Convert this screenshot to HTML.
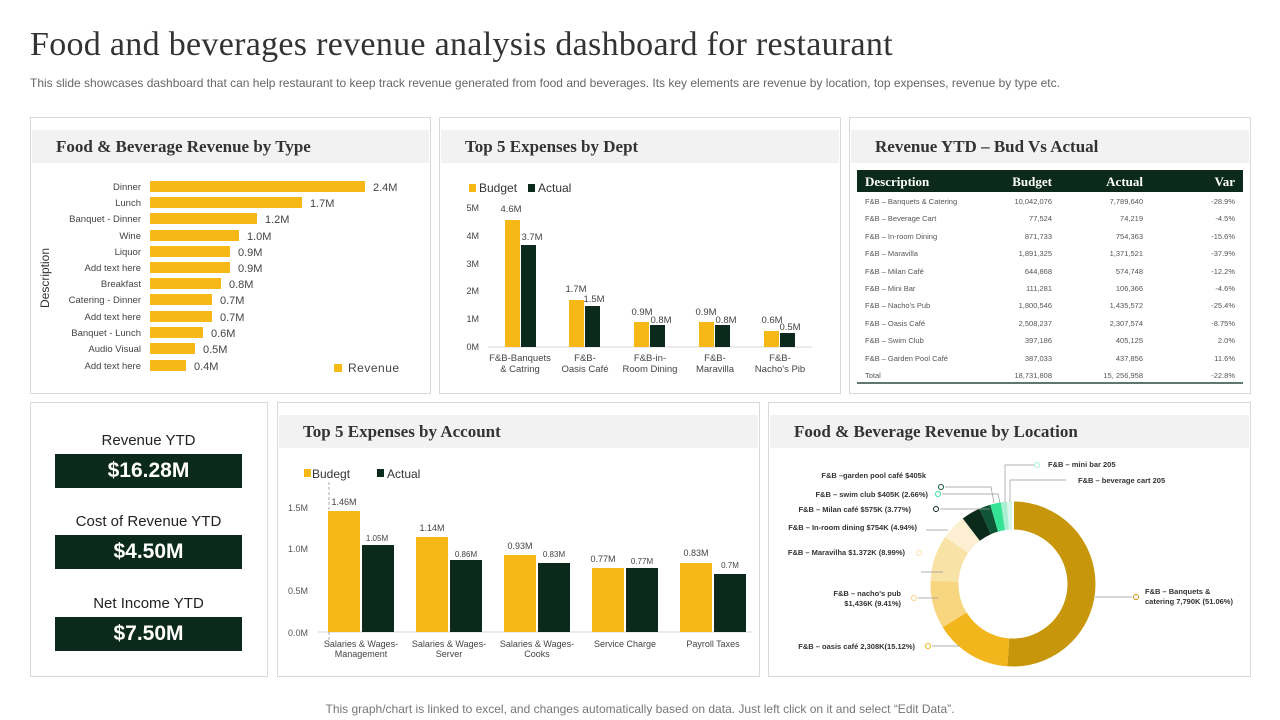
<!DOCTYPE html><html><head><meta charset="utf-8"><style>
body{margin:0;width:1280px;height:720px;background:#fff;position:relative;overflow:hidden;font-family:"Liberation Sans",sans-serif;color:#222}
.a{position:absolute}
.p{position:absolute;border:1px solid #d9d9d9;background:#fff;box-sizing:border-box}
.h{position:absolute;left:1px;right:1px;height:33px;background:#f2f2f2;font:bold 17px "Liberation Serif",serif;color:#333;line-height:33px;padding-left:24px}
.kl{position:absolute;left:55px;width:187px;text-align:center;font-size:15px;color:#222}
.kb{position:absolute;left:55px;width:187px;height:34px;background:#0b2a1b;color:#fff;font-weight:bold;font-size:21px;text-align:center;line-height:34px}
svg{font-family:"Liberation Sans",sans-serif}
.sf text{font-family:"Liberation Serif",serif}
</style></head><body>
<div class="a" style="left:30px;top:26px;font:34px 'Liberation Serif',serif;color:#333;letter-spacing:0.3px">Food and beverages revenue analysis dashboard for restaurant</div>
<div class="a" style="left:30px;top:76px;font-size:12px;color:#666">This slide showcases dashboard that can help restaurant to keep track revenue generated from food and beverages. Its key elements are revenue by location, top expenses, revenue by type etc.</div>
<div class="a" style="left:0;width:1280px;top:702px;text-align:center;font-size:12px;color:#777">This graph/chart is linked to excel, and changes automatically based on data. Just left click on it and select “Edit Data”.</div>

<div class="p" style="left:30px;top:117px;width:401px;height:277px"><div class="h" style="top:12px">Food &amp; Beverage Revenue by Type</div></div>
<div class="p" style="left:439px;top:117px;width:402px;height:277px"><div class="h" style="top:12px">Top 5 Expenses by Dept</div></div>
<div class="p" style="left:849px;top:117px;width:402px;height:277px"><div class="h" style="top:12px">Revenue YTD – Bud Vs Actual</div></div>
<div class="p" style="left:30px;top:402px;width:238px;height:275px"></div>
<div class="p" style="left:277px;top:402px;width:483px;height:275px"><div class="h" style="top:12px">Top 5 Expenses by Account</div></div>
<div class="p" style="left:768px;top:402px;width:483px;height:275px"><div class="h" style="top:12px">Food &amp; Beverage Revenue by Location</div></div>

<div class="kl" style="top:432px">Revenue YTD</div><div class="kb" style="top:454px">$16.28M</div>
<div class="kl" style="top:513px">Cost of Revenue YTD</div><div class="kb" style="top:535px">$4.50M</div>
<div class="kl" style="top:595px">Net Income YTD</div><div class="kb" style="top:617px">$7.50M</div>

<svg class="a" style="left:0;top:0" width="1280" height="720">
<g font-size="9.5" fill="#444" text-anchor="end">
<text x="141" y="190">Dinner</text><text x="141" y="206">Lunch</text><text x="141" y="222">Banquet - Dinner</text><text x="141" y="239">Wine</text><text x="141" y="255">Liquor</text><text x="141" y="271">Add text here</text><text x="141" y="287">Breakfast</text><text x="141" y="303">Catering - Dinner</text><text x="141" y="320">Add text here</text><text x="141" y="336">Banquet - Lunch</text><text x="141" y="352">Audio Visual</text><text x="141" y="369">Add text here</text>
</g>
<g fill="#f6b817">
<rect x="150" y="181" width="215" height="11"/><rect x="150" y="197" width="152" height="11"/><rect x="150" y="213" width="107" height="11"/><rect x="150" y="230" width="89" height="11"/><rect x="150" y="246" width="80" height="11"/><rect x="150" y="262" width="80" height="11"/><rect x="150" y="278" width="71" height="11"/><rect x="150" y="294" width="62" height="11"/><rect x="150" y="311" width="62" height="11"/><rect x="150" y="327" width="53" height="11"/><rect x="150" y="343" width="45" height="11"/><rect x="150" y="360" width="36" height="11"/>
</g>
<g font-size="11" fill="#444">
<text x="373" y="191">2.4M</text><text x="310" y="207">1.7M</text><text x="265" y="223">1.2M</text><text x="247" y="240">1.0M</text><text x="238" y="256">0.9M</text><text x="238" y="272">0.9M</text><text x="229" y="288">0.8M</text><text x="220" y="304">0.7M</text><text x="220" y="321">0.7M</text><text x="211" y="337">0.6M</text><text x="203" y="353">0.5M</text><text x="194" y="370">0.4M</text>
</g>
<text transform="translate(49,278) rotate(-90)" text-anchor="middle" font-size="12" fill="#333">Description</text>
<rect x="334" y="364" width="8" height="8" fill="#f6b817"/><text x="348" y="372" font-size="12" fill="#444" letter-spacing="0.5">Revenue</text>

<rect x="469" y="184" width="7" height="8" fill="#f6b817"/><text x="479" y="192" font-size="12" fill="#333">Budget</text>
<rect x="528" y="184" width="7" height="8" fill="#0b2a1b"/><text x="538" y="192" font-size="12" fill="#333">Actual</text>
<g font-size="9" fill="#444" text-anchor="end"><text x="479" y="211">5M</text><text x="479" y="239">4M</text><text x="479" y="267">3M</text><text x="479" y="294">2M</text><text x="479" y="322">1M</text><text x="479" y="350">0M</text></g>
<line x1="488" y1="347" x2="812" y2="347" stroke="#d9d9d9"/>
<g fill="#f6b817"><rect x="505" y="220" width="15" height="127"/><rect x="569" y="300" width="15" height="47"/><rect x="634" y="322" width="15" height="25"/><rect x="699" y="322" width="15" height="25"/><rect x="764" y="331" width="15" height="16"/></g>
<g fill="#0b2a1b"><rect x="521" y="245" width="15" height="102"/><rect x="585" y="306" width="15" height="41"/><rect x="650" y="325" width="15" height="22"/><rect x="715" y="325" width="15" height="22"/><rect x="780" y="333" width="15" height="14"/></g>
<g font-size="9.5" fill="#444" text-anchor="middle">
<text x="511" y="212">4.6M</text><text x="532" y="240">3.7M</text><text x="576" y="292">1.7M</text><text x="594" y="302">1.5M</text><text x="642" y="315">0.9M</text><text x="661" y="323">0.8M</text><text x="706" y="315">0.9M</text><text x="726" y="323">0.8M</text><text x="772" y="323">0.6M</text><text x="790" y="330">0.5M</text>
<text x="520" y="361">F&amp;B-Banquets</text><text x="520" y="372">&amp; Catring</text>
<text x="585" y="361">F&amp;B-</text><text x="585" y="372">Oasis Café</text>
<text x="650" y="361">F&amp;B-in-</text><text x="650" y="372">Room Dining</text>
<text x="715" y="361">F&amp;B-</text><text x="715" y="372">Maravilla</text>
<text x="780" y="361">F&amp;B-</text><text x="780" y="372">Nacho's Pib</text>
</g>

<rect x="857" y="170" width="386" height="22" fill="#0b2a1b"/>
<g class="sf" font-weight="bold" font-size="13" fill="#fff">
<text x="865" y="186">Description</text><text x="1052" y="186" text-anchor="end">Budget</text><text x="1143" y="186" text-anchor="end">Actual</text><text x="1235" y="186" text-anchor="end">Var</text></g>
<g font-size="7.5" fill="#555">
<g><text x="865" y="204">F&amp;B – Banquets &amp; Catering</text><text x="865" y="221">F&amp;B – Beverage Cart</text><text x="865" y="239">F&amp;B – In-room Dining</text><text x="865" y="256">F&amp;B – Maravilla</text><text x="865" y="274">F&amp;B – Milan Café</text><text x="865" y="291">F&amp;B – Mini Bar</text><text x="865" y="308">F&amp;B – Nacho's Pub</text><text x="865" y="326">F&amp;B – Oasis Café</text><text x="865" y="343">F&amp;B – Swim Club</text><text x="865" y="361">F&amp;B – Garden Pool Café</text><text x="865" y="378">Total</text></g>
<g text-anchor="end"><text x="1052" y="204">10,042,076</text><text x="1052" y="221">77,524</text><text x="1052" y="239">871,733</text><text x="1052" y="256">1,891,325</text><text x="1052" y="274">644,868</text><text x="1052" y="291">111,281</text><text x="1052" y="308">1,800,546</text><text x="1052" y="326">2,508,237</text><text x="1052" y="343">397,186</text><text x="1052" y="361">387,033</text><text x="1052" y="378">18,731,808</text></g>
<g text-anchor="end"><text x="1143" y="204">7,789,640</text><text x="1143" y="221">74,219</text><text x="1143" y="239">754,363</text><text x="1143" y="256">1,371,521</text><text x="1143" y="274">574,748</text><text x="1143" y="291">106,366</text><text x="1143" y="308">1,435,572</text><text x="1143" y="326">2,307,574</text><text x="1143" y="343">405,125</text><text x="1143" y="361">437,856</text><text x="1143" y="378">15, 256,958</text></g>
<g text-anchor="end"><text x="1235" y="204">-28.9%</text><text x="1235" y="221">-4.5%</text><text x="1235" y="239">-15.6%</text><text x="1235" y="256">-37.9%</text><text x="1235" y="274">-12.2%</text><text x="1235" y="291">-4.6%</text><text x="1235" y="308">-25.4%</text><text x="1235" y="326">-8.75%</text><text x="1235" y="343">2.0%</text><text x="1235" y="361">11.6%</text><text x="1235" y="378">-22.8%</text></g>
</g>
<line x1="857" y1="383" x2="1243" y2="383" stroke="#2f4a3c" stroke-width="1.5"/>

<rect x="304" y="469" width="7" height="8" fill="#f6b817"/><text x="312" y="478" font-size="12" fill="#333">Budegt</text>
<rect x="377" y="469" width="7" height="8" fill="#0b2a1b"/><text x="387" y="478" font-size="12" fill="#333">Actual</text>
<g font-size="9" fill="#555" text-anchor="end"><text x="308" y="511">1.5M</text><text x="308" y="552">1.0M</text><text x="308" y="594">0.5M</text><text x="308" y="636">0.0M</text></g>
<line x1="318" y1="632" x2="752" y2="632" stroke="#d9d9d9"/>
<line x1="329" y1="482" x2="329" y2="645" stroke="#888" stroke-dasharray="3,2" stroke-width="0.7"/>
<g fill="#f6b817"><rect x="328" y="511" width="32" height="121"/><rect x="416" y="537" width="32" height="95"/><rect x="504" y="555" width="32" height="77"/><rect x="592" y="568" width="32" height="64"/><rect x="680" y="563" width="32" height="69"/></g>
<g fill="#0b2a1b"><rect x="362" y="545" width="32" height="87"/><rect x="450" y="560" width="32" height="72"/><rect x="538" y="563" width="32" height="69"/><rect x="626" y="568" width="32" height="64"/><rect x="714" y="574" width="32" height="58"/></g>
<g font-size="9" fill="#444" text-anchor="middle">
<text x="344" y="505">1.46M</text><text x="377" y="541" font-size="8">1.05M</text><text x="432" y="531">1.14M</text><text x="466" y="557" font-size="8">0.86M</text><text x="520" y="549">0.93M</text><text x="554" y="557" font-size="8">0.83M</text><text x="603" y="562">0.77M</text><text x="642" y="564" font-size="8">0.77M</text><text x="696" y="556">0.83M</text><text x="730" y="568" font-size="8">0.7M</text>
<text x="361" y="647">Salaries &amp; Wages-</text><text x="361" y="657">Management</text>
<text x="449" y="647">Salaries &amp; Wages-</text><text x="449" y="657">Server</text>
<text x="537" y="647">Salaries &amp; Wages-</text><text x="537" y="657">Cooks</text>
<text x="625" y="647">Service Charge</text><text x="713" y="647">Payroll Taxes</text>
</g>

<g transform="rotate(-90 1013 584)" fill="none" stroke-width="28">
<circle cx="1013" cy="584" r="68.5" stroke="#c8960a" stroke-dasharray="219.8 430.4" stroke-dashoffset="0"/>
<circle cx="1013" cy="584" r="68.5" stroke="#f3b51c" stroke-dasharray="65.1 430.4" stroke-dashoffset="-219.8"/>
<circle cx="1013" cy="584" r="68.5" stroke="#f7d67f" stroke-dasharray="40.5 430.4" stroke-dashoffset="-284.9"/>
<circle cx="1013" cy="584" r="68.5" stroke="#f9e2a6" stroke-dasharray="38.7 430.4" stroke-dashoffset="-325.4"/>
<circle cx="1013" cy="584" r="68.5" stroke="#fcefd2" stroke-dasharray="21.3 430.4" stroke-dashoffset="-364.1"/>
<circle cx="1013" cy="584" r="68.5" stroke="#0b2a1b" stroke-dasharray="16.2 430.4" stroke-dashoffset="-385.4"/>
<circle cx="1013" cy="584" r="68.5" stroke="#0e5535" stroke-dasharray="9.5 430.4" stroke-dashoffset="-401.6"/>
<circle cx="1013" cy="584" r="68.5" stroke="#34e394" stroke-dasharray="9 430.4" stroke-dashoffset="-411.1"/>
<circle cx="1013" cy="584" r="68.5" stroke="#a9f0d2" stroke-dasharray="5 430.4" stroke-dashoffset="-420.1"/>
<circle cx="1013" cy="584" r="68.5" stroke="#d8f6ea" stroke-dasharray="5.3 430.4" stroke-dashoffset="-425.1"/>
</g>
<line x1="1013" y1="584" x2="1013" y2="500" stroke="#fff" stroke-width="2"/>
<g fill="none" stroke="#999" stroke-width="0.7">
<polyline points="1095,597 1132,597"/><polyline points="943,572 921,572"/><polyline points="938,598 918,598"/><polyline points="960,646 932,646"/><polyline points="948,530 926,530"/>
<polyline points="1000,503 998,494 942,494"/><polyline points="994,503 991,487 945,487"/><polyline points="990,509 987,509 940,509"/>
<polyline points="1005,502 1005,465 1035,465"/><polyline points="1010,502 1010,480 1066,480"/>
</g>
<g fill="#fff" stroke-width="1"><circle cx="1136" cy="597" r="2.5" stroke="#c8960a"/><circle cx="914" cy="598" r="2.5" stroke="#f7d67f"/><circle cx="928" cy="646" r="2.5" stroke="#f3b51c"/><circle cx="919" cy="553" r="2.5" stroke="#f9e2a6"/><circle cx="938" cy="494" r="2.5" stroke="#34e394"/><circle cx="941" cy="487" r="2.5" stroke="#0e5535"/><circle cx="936" cy="509" r="2.5" stroke="#0b2a1b"/><circle cx="1037" cy="465" r="2.5" stroke="#a9f0d2"/></g>
<g font-size="7.5" fill="#333" font-weight="bold">
<text x="1145" y="594">F&amp;B – Banquets &amp;</text><text x="1145" y="604">catering  7,790K  (51.06%)</text>
<text x="1048" y="467">F&amp;B – mini bar 205</text><text x="1078" y="483">F&amp;B – beverage cart  205</text>
<g text-anchor="end"><text x="926" y="478">F&amp;B –garden pool café $405k</text><text x="928" y="497">F&amp;B – swim club $405K  (2.66%)</text><text x="911" y="512">F&amp;B – Milan café  $575K  (3.77%)</text><text x="917" y="530">F&amp;B – In-room dining $754K  (4.94%)</text><text x="905" y="555">F&amp;B – Maravilha $1.372K  (8.99%)</text><text x="901" y="596">F&amp;B – nacho's  pub</text><text x="901" y="606">$1,436K  (9.41%)</text><text x="915" y="649">F&amp;B – oasis café 2,308K(15.12%)</text></g>
</g>
</svg>
</body></html>
